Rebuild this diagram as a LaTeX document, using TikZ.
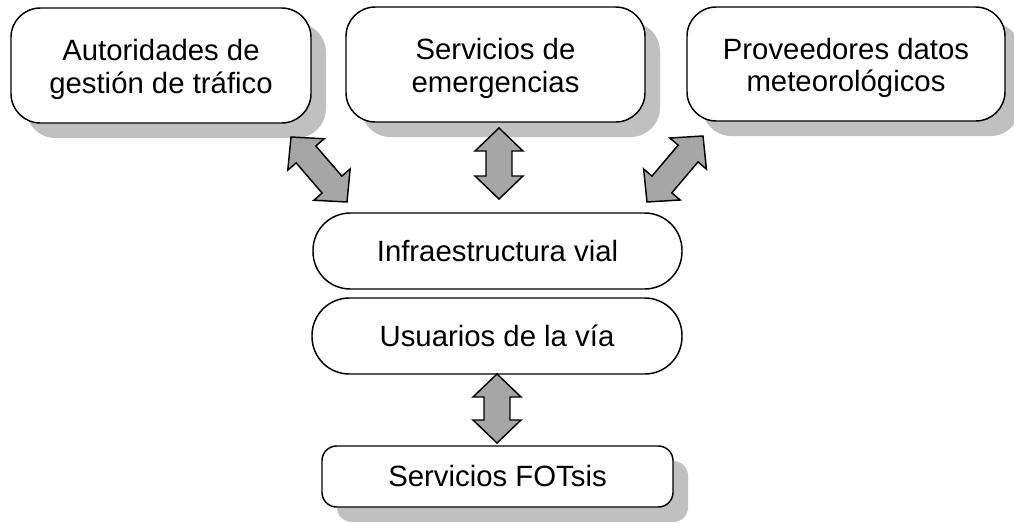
\documentclass[tikz,border=0pt]{standalone}
\usepackage{fontspec}
\setmainfont{Liberation Sans}
\usetikzlibrary{calc,shadows}
\definecolor{shadowgray}{RGB}{192,192,192}
\definecolor{arrowgray}{RGB}{166,166,166}
\newcommand\myblockarrow[2]{%
  \draw[blockarrow] (#1)
    -- ($(#1)!17.25pt!(#2)!18pt!90:(#2)$)
    -- ($(#1)!17.25pt!(#2)!9.75pt!90:(#2)$)
    -- ($(#2)!17.25pt!(#1)!9.75pt!90:(#2)$)
    -- ($(#2)!17.25pt!(#1)!18pt!90:(#2)$)
    -- (#2)
    -- ($(#2)!17.25pt!(#1)!18pt!-90:(#2)$)
    -- ($(#2)!17.25pt!(#1)!9.75pt!-90:(#2)$)
    -- ($(#1)!17.25pt!(#2)!9.75pt!-90:(#2)$)
    -- ($(#1)!17.25pt!(#2)!18pt!-90:(#2)$)
    -- cycle;}
\begin{document}
\begin{tikzpicture}[x=0.75pt,y=-0.75pt,
  box/.style={draw=black,line width=1.1pt,fill=white,inner sep=0pt,align=center,
    font=\fontsize{22}{24.5}\selectfont},
  boxtext/.style={label={[align=center,inner sep=0pt,yshift=-3pt,font=\fontsize{22}{24.5}\selectfont]center:#1}},
  shadowed/.style={drop shadow={shadow xshift=11.25pt,shadow yshift=-11.25pt,fill=shadowgray,opacity=1}},
  blockarrow/.style={draw=black,line width=1.1pt,fill=arrowgray,line join=miter}]
\useasboundingbox (0,0) rectangle (1014,522);

\node[box,shadowed,rounded corners=22pt,minimum width=225pt,minimum height=86.25pt,
  boxtext={Autoridades de\\gestión de tráfico}] (aut) at (161,65.5) {};
\node[box,shadowed,rounded corners=22pt,minimum width=224.25pt,minimum height=86.25pt,
  boxtext={Servicios de\\emergencias}] (eme) at (495.5,64.5) {};
\node[box,shadowed,rounded corners=22pt,minimum width=238.5pt,minimum height=85.5pt,
  boxtext={Proveedores datos\\meteorológicos}] (met) at (846,64) {};

\node[box,rounded corners=28pt,minimum width=276.75pt,minimum height=57pt] (inf) at (497.5,251) {Infraestructura vial};
\node[box,rounded corners=28pt,minimum width=277.5pt,minimum height=57pt] (usu) at (497,336) {Usuarios de la vía};
\node[box,shadowed,rounded corners=11pt,minimum width=263.25pt,minimum height=45.75pt] (fot) at (497.5,476.5) {Servicios FOTsis};

\coordinate (l1) at (291,137);
\coordinate (l2) at (347,202);
\coordinate (m1) at (499,128);
\coordinate (m2) at (499,199);
\coordinate (r1) at (703,136);
\coordinate (r2) at (647,202);
\coordinate (b1) at (497,374);
\coordinate (b2) at (497,443);

\myblockarrow{l1}{l2}
\myblockarrow{m1}{m2}
\myblockarrow{r1}{r2}
\myblockarrow{b1}{b2}
\end{tikzpicture}
\end{document}
